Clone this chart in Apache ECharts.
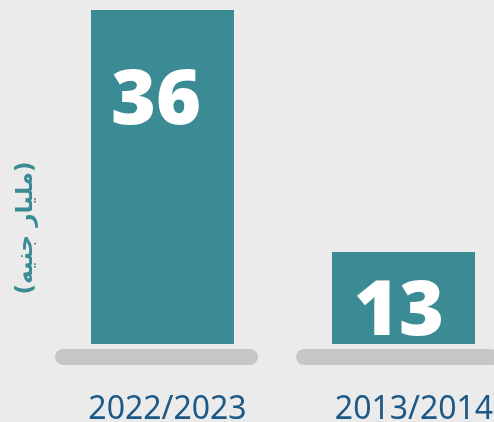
<!DOCTYPE html>
<html>
<head>
<meta charset="utf-8">
<script src="https://cdn.jsdelivr.net/npm/echarts@6/dist/echarts.min.js"></script>
<style>
  html, body { margin: 0; padding: 0; background: #ebebeb; }
  #chart { width: 494px; height: 422px; }
</style>
</head>
<body>
<div id="chart"></div>
<script>
// Investment totals, billion EGP
const categories = ['2022/2023', '2013/2014'];
const values = [36, 13];
const unitLabel = '(مليار جنيه)';

const TEAL = '#3a8b94';
const NAVY = '#1d5986';
const BASE_MIN = 4.26;

const chart = echarts.init(document.getElementById('chart'));

// Label placement inside each bar (offset from bar's top-left)
const labelPos = [[65, 92], [67, 61]];
// Horizontal nudge of each category label
const catPad = [[0, 0, 0, 10], [0, 0, 0, 21]];

chart.setOption({
  backgroundColor: '#ebebeb',
  animation: false,
  grid: {
    left: 42, right: -30, top: 10, bottom: 78,
    outerBoundsMode: 'none'
  },
  xAxis: {
    type: 'category',
    data: categories.map((c, i) => ({ value: c, textStyle: { padding: catPad[i] } })),
    axisLine: { show: false },
    axisTick: { show: false },
    axisLabel: {
      margin: 50,
      color: NAVY,
      fontFamily: 'Noto Sans',
      fontSize: 32
    }
  },
  yAxis: {
    type: 'value',
    min: BASE_MIN,
    max: 36,
    show: false
  },
  graphic: [{
    type: 'text',
    x: 26, y: 228,
    rotation: Math.PI / 2,
    style: {
      text: unitLabel,
      fill: TEAL,
      font: 'bold 23px "DejaVu Sans", "Noto Sans", sans-serif',
      align: 'center',
      verticalAlign: 'middle'
    }
  }],
  series: [
    {
      // rounded grey plinth under each bar
      type: 'custom',
      silent: true,
      z: 1,
      data: categories.map((c, i) => [i]),
      encode: { x: 0 },
      renderItem: function (params, api) {
        const p = api.coord([api.value(0), BASE_MIN]);
        const band = api.size([1, 0])[0];
        const w = band * 0.842;
        return {
          type: 'rect',
          shape: { x: p[0] - w / 2 - 6, y: p[1] + 5, width: w, height: 16, r: 8 },
          style: { fill: '#c6c6c6' }
        };
      }
    },
    {
      type: 'bar',
      z: 2,
      barWidth: 143,
      itemStyle: { color: TEAL },
      data: values.map((v, i) => ({
        value: v,
        label: {
          show: true,
          position: labelPos[i],
          align: 'center',
          verticalAlign: 'middle',
          color: '#ffffff',
          fontFamily: 'Open Sans',
          fontWeight: 800,
          fontSize: 77
        }
      }))
    }
  ]
});
</script>
</body>
</html>
